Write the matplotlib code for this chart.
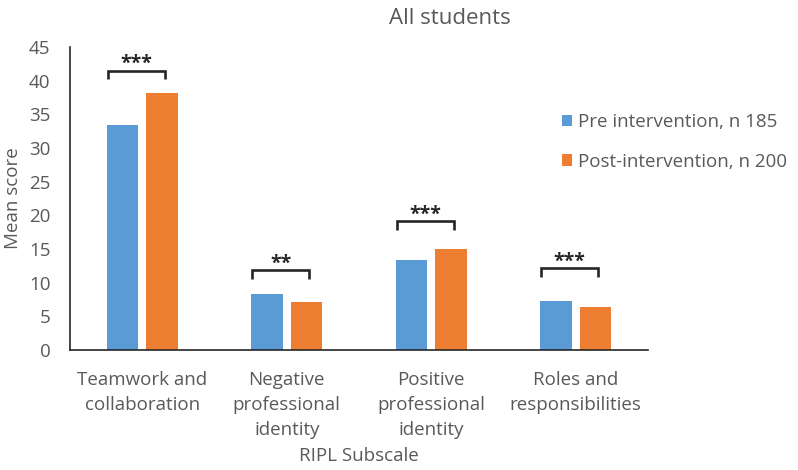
import matplotlib
matplotlib.use("Agg")
import matplotlib.pyplot as plt
import numpy as np

categories = ["Teamwork and\ncollaboration", "Negative\nprofessional\nidentity",
              "Positive\nprofessional\nidentity", "Roles and\nresponsibilities"]
pre_values = [33.4, 8.3, 13.4, 7.3]
post_values = [38.2, 7.2, 15.0, 6.4]
series_labels = ["Pre intervention, n 185", "Post-intervention, n 200"]
significance = ["***", "**", "***", "***"]
bracket_levels = [41.5, 11.9, 19.1, 12.2]
yticks = [0, 5, 10, 15, 20, 25, 30, 35, 40, 45]

plt.rcParams['font.family'] = ['Open Sans', 'DejaVu Sans']
gray = "#595959"
blue = "#5B9BD5"
orange = "#ED7D31"
dark = "#262626"

fig = plt.figure(figsize=(7.98, 4.70), dpi=100)
ax = fig.add_axes([70/798, 120/470, 578/798, 303/470])

x = np.arange(len(categories))
w = 0.22
off = 0.137
ax.bar(x - off, pre_values, width=w, color=blue, label=series_labels[0])
ax.bar(x + off, post_values, width=w, color=orange, label=series_labels[1])

for i, (lvl, s) in enumerate(zip(bracket_levels, significance)):
    x0 = i - 0.24
    x1 = i + 0.155
    ax.plot([x0, x0, x1, x1], [lvl - 1.3, lvl, lvl, lvl - 1.3], color=dark, lw=1.9,
            solid_joinstyle="miter", solid_capstyle="butt")
    ax.text((x0 + x1) / 2, lvl + 0.2, s, ha="center", va="baseline", fontsize=14,
            fontweight="bold", color=dark)

ax.set_xlim(-0.5, len(categories) - 0.5)
ax.set_ylim(0, 45)
ax.set_yticks(yticks)
ax.set_xticks(x)
ax.set_xticklabels(categories, fontsize=13.5, color=gray, linespacing=1.5)
ax.tick_params(axis="y", labelsize=13.5, colors=gray, length=0, pad=14)
ax.tick_params(axis="x", length=0, pad=15)
for sp in ["top", "right"]:
    ax.spines[sp].set_visible(False)
for sp in ["left", "bottom"]:
    ax.spines[sp].set_color(dark)
    ax.spines[sp].set_linewidth(1.2)
ax.set_ylabel("Mean score", fontsize=13.5, color=gray, labelpad=5)
ax.set_xlabel("RIPL Subscale", fontsize=13.5, color=gray, labelpad=6)
fig.text(450/798, 1 - 18/470, "All students", ha="center", va="center", fontsize=16, color=gray)

leg = fig.legend(loc="upper left", bbox_to_anchor=(562/798, 1 - 113/470), frameon=False,
                 fontsize=13.5, handlelength=0.55, handleheight=0.55, handletextpad=0.3,
                 labelspacing=1.15, labelcolor=gray, borderpad=0, borderaxespad=0)

fig.savefig("out.png", dpi=100)
